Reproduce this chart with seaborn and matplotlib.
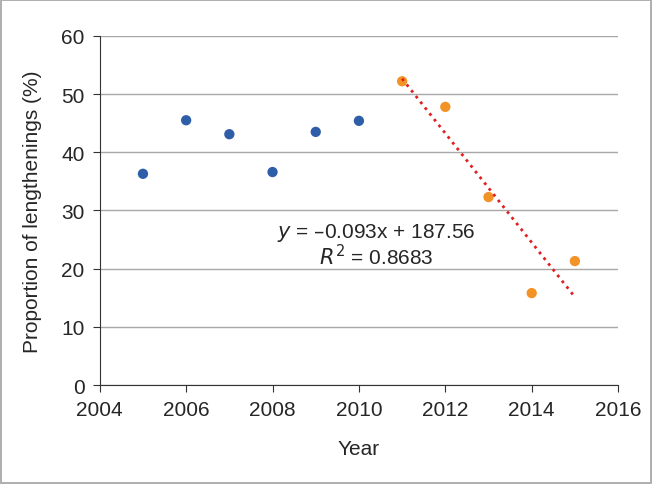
import numpy as np
import pandas as pd
import seaborn as sns
import matplotlib.pyplot as plt

# values
years_a = [2005, 2006, 2007, 2008, 2009, 2010]
prop_a = [36.3, 45.5, 43.1, 36.6, 43.5, 45.4]
years_b = [2011, 2012, 2013, 2014, 2015]
prop_b = [52.2, 47.8, 32.3, 15.8, 21.3]

df = pd.DataFrame({
    'Year': years_a + years_b,
    'Prop': prop_a + prop_b,
    'Period': ['a'] * len(years_a) + ['b'] * len(years_b),
})

sns.set_style('white')
plt.rcParams['font.family'] = ['Liberation Sans', 'DejaVu Sans']

fig = plt.figure(figsize=(6.52, 4.85), dpi=100)
fig.patch.set_edgecolor('#b0b0b0')
fig.patch.set_linewidth(1.5)
ax = fig.add_axes([0.153, 0.204, 0.795, 0.72])

ax.yaxis.grid(True, color='#a8a8a8', linewidth=1)
ax.set_axisbelow(True)
sns.scatterplot(data=df, x='Year', y='Prop', hue='Period',
                palette={'a': '#2f5ea8', 'b': '#f39325'},
                s=55, edgecolor='none', legend=False, ax=ax)

# linear trend through 2011-2015
k, b = np.polyfit(years_b, prop_b, 1)
xs = np.array([years_b[0], years_b[-1]])
ax.plot(xs, k * xs + b, color='#e02020', linestyle=':', linewidth=2)

ax.text(2010.4, 26.3, r'$y$ = –0.093x + 187.56', ha='center', va='center', fontsize=15)
ax.text(2010.4, 22.2, r'$R^2$ = 0.8683', ha='center', va='center', fontsize=15)

ax.set_xlim(2004, 2016)
ax.set_ylim(0, 60)
ax.set_xticks(range(2004, 2017, 2))
ax.set_yticks(range(0, 61, 10))
ax.tick_params(labelsize=15, length=5, pad=6, direction='out', color='#333333')
ax.tick_params(axis='both', bottom=True, left=True)
ax.set_xlabel('Year', fontsize=15, labelpad=14)
ax.set_ylabel('Proportion of lengthenings (%)', fontsize=15, labelpad=14)
for s in ['top', 'right']:
    ax.spines[s].set_visible(False)
for s in ['left', 'bottom']:
    ax.spines[s].set_color('#333333')

fig.savefig('out.png', dpi=100, edgecolor=fig.get_edgecolor())
